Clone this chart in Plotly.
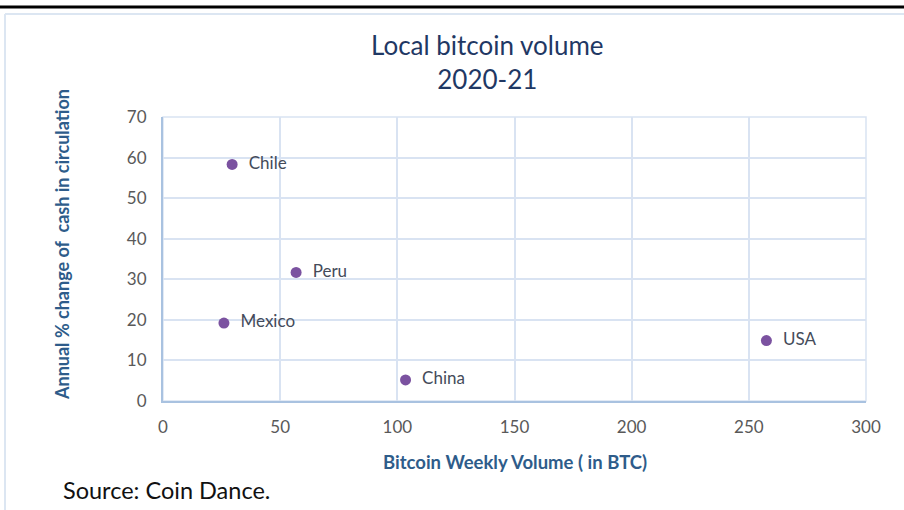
import plotly.graph_objects as go

countries = ["Chile", "Peru", "Mexico", "China", "USA"]
btc_volume = [29.5, 56.8, 26, 103.5, 257.5]
cash_change = [58.3, 31.7, 19.2, 5.2, 14.9]

W, H = 904, 510
L, R, T, B = 163, 38, 117, 109

fig = go.Figure()
fig.add_trace(go.Scatter(
    x=btc_volume, y=cash_change, mode="markers+text",
    text=["  " + c for c in countries], textposition="middle right",
    textfont=dict(family="Lato", size=17, color="#444B5A"),
    marker=dict(size=11, color="#7B52A0"),
    cliponaxis=False, hoverinfo="skip", showlegend=False,
))

fig.update_layout(
    width=W, height=H, margin=dict(l=L, r=R, t=T, b=B),
    paper_bgcolor="white", plot_bgcolor="white",
    font=dict(family="Lato"),
    xaxis=dict(range=[0, 300], dtick=50, showgrid=True, gridcolor="#D9E3F2", gridwidth=1.5,
               showline=True, linecolor="#A9C2E0", linewidth=2, mirror=False,
               zeroline=False, ticks="", ticklabelstandoff=10,
               tickfont=dict(family="Lato", size=17, color="#595959")),
    yaxis=dict(range=[0, 70], dtick=10, showgrid=True, gridcolor="#D9E3F2", gridwidth=1.5,
               showline=True, linecolor="#A9C2E0", linewidth=2,
               zeroline=False, ticks="", ticklabelstandoff=11,
               tickfont=dict(family="Lato", size=17, color="#595959")),
    shapes=[
        dict(type="line", xref="paper", yref="paper",
             x0=-L / (W - L - R), x1=(W - L) / (W - L - R),
             y0=(H - B - 7) / (H - T - B), y1=(H - B - 7) / (H - T - B),
             line=dict(color="black", width=3)),
        dict(type="line", xref="paper", yref="paper",
             x0=(5 - L) / (W - L - R), x1=(W - L) / (W - L - R),
             y0=(H - B - 14) / (H - T - B), y1=(H - B - 14) / (H - T - B),
             line=dict(color="#DCE6F2", width=2)),
        dict(type="line", xref="paper", yref="paper",
             x0=(5 - L) / (W - L - R), x1=(5 - L) / (W - L - R),
             y0=(H - B - 14) / (H - T - B), y1=(H - B - H) / (H - T - B),
             line=dict(color="#DCE6F2", width=2)),
        dict(type="rect", xref="paper", yref="paper", x0=0, x1=1, y0=0, y1=1,
             line=dict(color="#D9E3F2", width=1.5), layer="below"),
    ],
    annotations=[
        dict(text="Local bitcoin volume<br>2020-21", xref="paper", yref="paper",
             x=(487 - L) / (W - L - R), y=(H - B - 62) / (H - T - B),
             xanchor="center", yanchor="middle", showarrow=False,
             font=dict(family="Lato", size=26, color="#1F3864")),
        dict(text="<b>Bitcoin Weekly Volume ( in BTC)</b>", xref="paper", yref="paper",
             x=(515 - L) / (W - L - R), y=(H - B - 462) / (H - T - B),
             xanchor="center", yanchor="middle", showarrow=False,
             font=dict(family="Lato", size=18.5, color="#2E5C8A")),
        dict(text="<b>Annual % change of  cash in circulation</b>", xref="paper", yref="paper",
             x=(62 - L) / (W - L - R), y=(H - B - 245) / (H - T - B), textangle=-90,
             xanchor="center", yanchor="middle", showarrow=False,
             font=dict(family="Lato", size=18, color="#2E5C8A")),
        dict(text="Source: Coin Dance.", xref="paper", yref="paper",
             x=(61 - L) / (W - L - R), y=(H - B - 490) / (H - T - B),
             xanchor="left", yanchor="middle", showarrow=False,
             font=dict(family="Lato", size=23.5, color="#111111")),
    ],
)

fig.write_html("out.html")
